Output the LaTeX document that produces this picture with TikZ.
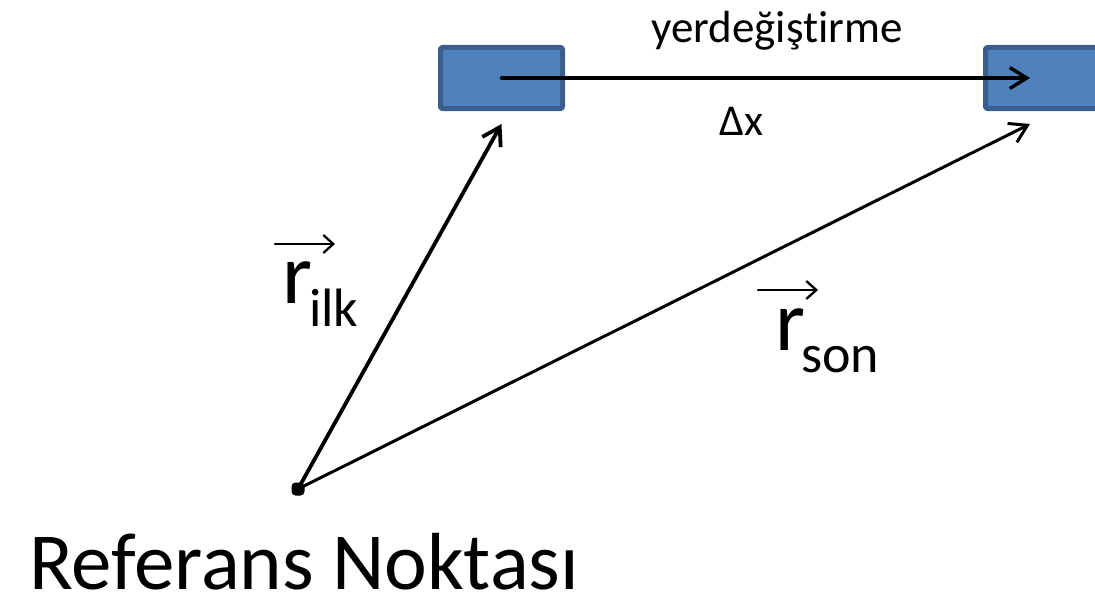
\documentclass[tikz,border=0pt]{standalone}
\usepackage{fontspec}
\setmainfont{Carlito}[Ligatures=NoCommon]
\usetikzlibrary{arrows.meta,positioning}

\definecolor{boxfill}{HTML}{4F81BD}
\definecolor{boxedge}{HTML}{3A5F8E}

\newcommand{\subfont}{\fontsize{54}{54}\selectfont}

\begin{document}
\begin{tikzpicture}[
  x=1pt, y=-1pt,
  line cap=round,
  line join=round,
  body/.style={draw=boxedge, fill=boxfill, line width=5pt, rounded corners=2pt,
    minimum width=122pt, minimum height=61pt, inner sep=0pt},
  shiftvec/.style={-{Straight Barb[length=17pt,width=21pt,line width=3.4pt]}, line width=3.4pt},
  ilkvec/.style={-{Straight Barb[length=17pt,width=21pt,line width=3.8pt]}, line width=3.8pt},
  sonvec/.style={-{Straight Barb[length=17pt,width=21pt,line width=3pt]}, line width=3pt},
  overvec/.style={-{Straight Barb[length=10pt,width=18pt,line width=2.3pt]}, line width=2.3pt},
  point/.style={rectangle, rounded corners=4pt, fill=black, inner sep=0pt, minimum size=13pt},
  biglabel/.style={inner sep=0pt, font=\fontsize{86}{86}\selectfont},
  midlabel/.style={inner sep=0pt, font=\fontsize{45}{45}\selectfont},
  reflabel/.style={inner sep=0pt, font=\fontsize{81}{81}\selectfont}
]

\clip (0,0) rectangle (1095,594);
\useasboundingbox (0,0) rectangle (1095,594);

% Start and end positions of the body.
\node[body] (startBox) at (501.5,78) {};
\node[body] (endBox) at (1046.5,78) {};

% Reference point.
\node[point] (origin) at (298,489) {};

% Arrow tips.
\coordinate (shiftTip) at ([xshift=-16.5pt]endBox.center);
\coordinate (ilkTip) at ([yshift=-46pt]startBox.center);
\coordinate (sonTip) at ([xshift=-16.5pt,yshift=-46pt]endBox.center);

% Displacement and position vectors.
\draw[shiftvec] (startBox.center) -- (shiftTip);
\draw[ilkvec] (origin.center) -- (ilkTip);
\draw[sonvec] (origin.center) -- (sonTip);

% Displacement labels.
\node[midlabel, anchor=base] (shiftName) at (777,43) {yerdeğiştirme};
\node[midlabel, anchor=base west] (shiftSym) at (719,135) {\fontsize{44}{44}\selectfont Δx};

% Position vector labels.
\node[biglabel, anchor=base west] (rIlk) at (282,303)
  {r\kern-3pt\raisebox{-23pt}{\subfont ilk}};
\draw[overvec] ([shift={(-7pt,59pt)}]rIlk.base west) -- +(60pt,0);

\node[biglabel, anchor=base west] (rSon) at (775,350)
  {r\kern-4pt\raisebox{-22pt}{\subfont son}};
\draw[overvec] ([shift={(-17pt,60pt)}]rSon.base west) -- +(60pt,0);

% Reference point label.
\node[reflabel, anchor=base west] (refName) at (29,589) {Referans Noktası};

\end{tikzpicture}
\end{document}
